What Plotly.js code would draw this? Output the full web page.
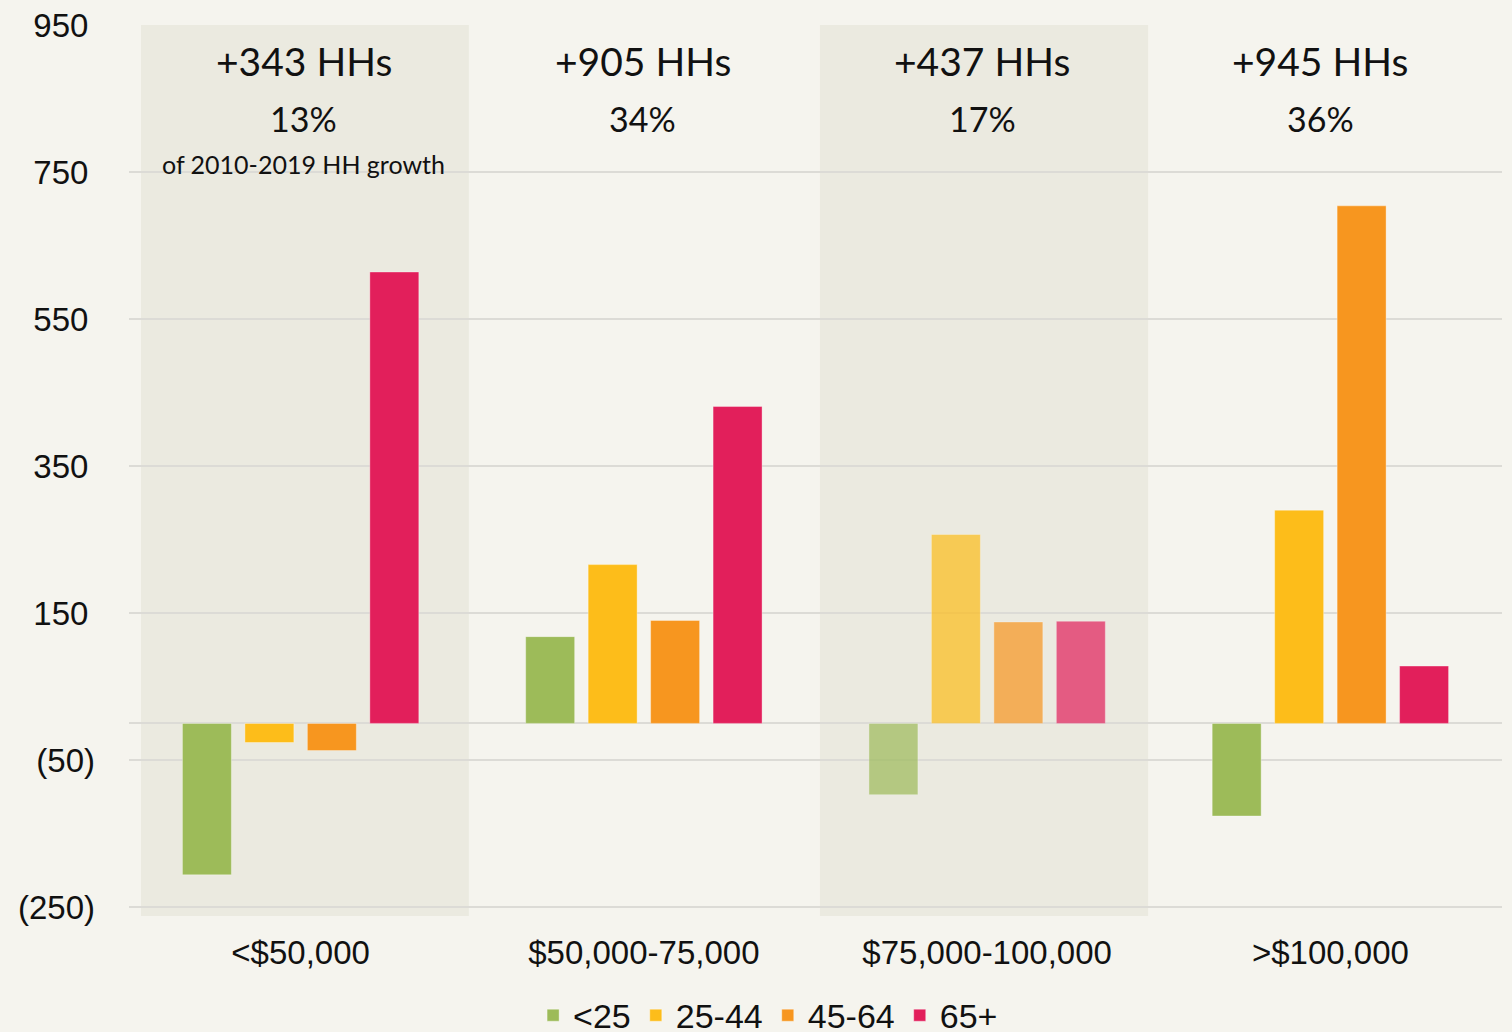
<!DOCTYPE html>
<html>
<head>
<meta charset="utf-8">
<script src="https://cdn.plot.ly/plotly-3.0.1.min.js"></script>
<style>
  html, body { margin: 0; padding: 0; background: #f5f4ee; }
  #chart { width: 1512px; height: 1032px; }
</style>
</head>
<body>
<div id="chart"></div>
<script>
// ---- data ----
const categories = ['<$50,000', '$50,000-75,000', '$75,000-100,000', '>$100,000'];
const seriesNames = ['<25', '25-44', '45-64', '65+'];
const under25 = [-206, 118, -97, -126];
const age25to44 = [-26, 216, 257, 290];
const age45to64 = [-37, 140, 138, 704];
const age65plus = [614, 431, 139, 78];
const hhLabels = ['+343 HHs', '+905 HHs', '+437 HHs', '+945 HHs'];
const shareLabels = ['13%', '34%', '17%', '36%'];
const noteLabel = 'of 2010-2019 HH growth';
const yTickVals = [950, 750, 550, 350, 150, -50, -250];
const yTickText = ['950\u2009', '750\u2009', '550\u2009', '350\u2009', '150\u2009', '(50)', '(250)'];

// ---- style ----
const colors = ['#9dbb59', '#fdbd1a', '#f7961f', '#e21f5b'];
const barOpacity = [1, 1, 0.7, 1];
const axisFont = { family: 'Liberation Sans, Arial, sans-serif', size: 33, color: '#111111' };
const annFont = 'Lato, Noto Sans, sans-serif';

const seriesValues = [under25, age25to44, age45to64, age65plus];
const traces = seriesValues.map((vals, i) => ({
  type: 'bar',
  name: seriesNames[i],
  x: categories,
  y: vals,
  marker: {
    color: colors[i],
    opacity: barOpacity,
    line: { width: 1, color: 'rgba(255,255,255,0.35)' }
  },
  hoverinfo: 'x+y+name'
}));

const annXShift = [3, -1, -5, -10];
const annotations = [];
categories.forEach((c, i) => {
  annotations.push({
    x: i, y: 901, xref: 'x', yref: 'y', text: hhLabels[i], showarrow: false,
    xshift: annXShift[i], yanchor: 'middle',
    font: { family: annFont, size: 39, color: '#111111' }
  });
  annotations.push({
    x: i, y: 823, xref: 'x', yref: 'y', text: shareLabels[i], showarrow: false,
    xshift: annXShift[i], yanchor: 'middle',
    font: { family: annFont, size: 34, color: '#111111' }
  });
});
annotations.push({
  x: 0, y: 761, xref: 'x', yref: 'y', text: noteLabel, showarrow: false,
  xshift: annXShift[0], yanchor: 'middle',
  font: { family: annFont, size: 25, color: '#111111' }
});

const shapes = [
  { type: 'rect', xref: 'x', yref: 'paper', x0: -0.465, x1: 0.49, y0: 0, y1: 1,
    fillcolor: '#ebeae0', line: { width: 0 }, layer: 'below' },
  { type: 'rect', xref: 'x', yref: 'paper', x0: 1.513, x1: 2.469, y0: 0, y1: 1,
    fillcolor: '#ebeae0', line: { width: 0 }, layer: 'below' }
];

const layout = {
  width: 1512,
  height: 1032,
  paper_bgcolor: '#f5f4ee',
  plot_bgcolor: '#f5f4ee',
  margin: { l: 129, r: 10, t: 25, b: 116, autoexpand: false },
  barmode: 'group',
  bargap: 0.272,
  bargroupgap: 0.216,
  showlegend: true,
  legend: {
    orientation: 'h',
    xref: 'container', yref: 'container',
    x: 0.508, xanchor: 'center',
    y: 0.044, yanchor: 'top',
    font: { family: 'Liberation Sans, Arial, sans-serif', size: 34, color: '#111111' },
    bgcolor: 'rgba(0,0,0,0)',
    traceorder: 'normal'
  },
  xaxis: {
    type: 'category',
    tickfont: axisFont,
    showgrid: false,
    showline: false,
    ticks: '',
    ticklabelstandoff: 14,
    fixedrange: true
  },
  yaxis: {
    range: [-262, 950],
    tickvals: yTickVals,
    ticktext: yTickText,
    tickfont: axisFont,
    showgrid: true,
    gridcolor: '#dcdbd6',
    gridwidth: 2,
    zeroline: true,
    zerolinecolor: '#dcdbd6',
    zerolinewidth: 2,
    showline: false,
    ticks: '',
    ticklabelstandoff: 33,
    fixedrange: true
  },
  annotations: annotations,
  shapes: shapes
};

Plotly.newPlot('chart', traces, layout, { displayModeBar: false, staticPlot: true });
</script>
</body>
</html>
